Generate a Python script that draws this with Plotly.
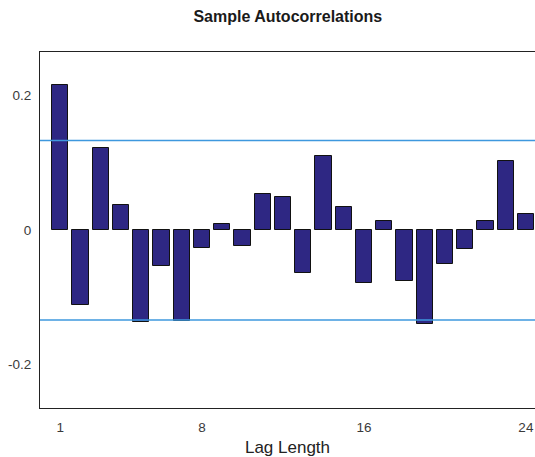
import plotly.graph_objects as go

lags = list(range(1, 25))
acf = [0.216, -0.111, 0.122, 0.037, -0.137, -0.054, -0.135, -0.026, 0.009, -0.024,
       0.054, 0.050, -0.063, 0.110, 0.035, -0.078, 0.014, -0.075, -0.139, -0.050,
       -0.028, 0.014, 0.103, 0.024]
conf_bound = 0.1335
x_ticks = [1, 8, 16, 24]
y_ticks = [-0.2, 0, 0.2]
y_tick_labels = ["-0.2", "0", "0.2"]

fig = go.Figure()
fig.add_trace(go.Bar(
    x=lags, y=acf, width=0.8,
    marker=dict(color="rgb(46,39,131)", line=dict(color="#111111", width=1)),
    showlegend=False,
))
for b in (conf_bound, -conf_bound):
    fig.add_trace(go.Scatter(
        x=[0, 30], y=[b, b], mode="lines",
        line=dict(color="rgb(62,152,222)", width=1.5),
        showlegend=False, hoverinfo="skip",
    ))

fig.update_layout(
    width=535, height=457,
    margin=dict(l=40, r=0, t=52, b=49),
    paper_bgcolor="white", plot_bgcolor="white",
    title=dict(text="<b>Sample Autocorrelations</b>", x=0.538, xanchor="center",
               y=1 - 16 / 457, yanchor="middle",
               font=dict(family="Liberation Sans, Arial", size=16, color="#1a1a1a")),
    bargap=0,
)
fig.update_xaxes(
    range=[0, 24.45], tickvals=x_ticks, ticktext=[str(t) for t in x_ticks],
    showgrid=False, zeroline=False, showline=True, linecolor="#222222", linewidth=1.2,
    mirror=True, ticks="", ticklabelstandoff=7,
    tickfont=dict(family="Liberation Sans, Arial", size=13.5, color="#3a3a3a"),
    title=dict(text="Lag Length", standoff=7,
               font=dict(family="Liberation Sans, Arial", size=17, color="#222222")),
)
fig.update_yaxes(
    range=[-0.2645, 0.265], tickvals=y_ticks, ticktext=y_tick_labels,
    showgrid=False, zeroline=False, showline=True, linecolor="#222222", linewidth=1.2,
    ticks="", ticklabelstandoff=5,
    tickfont=dict(family="Liberation Sans, Arial", size=13.5, color="#3a3a3a"),
)

fig.write_html("out.html")
